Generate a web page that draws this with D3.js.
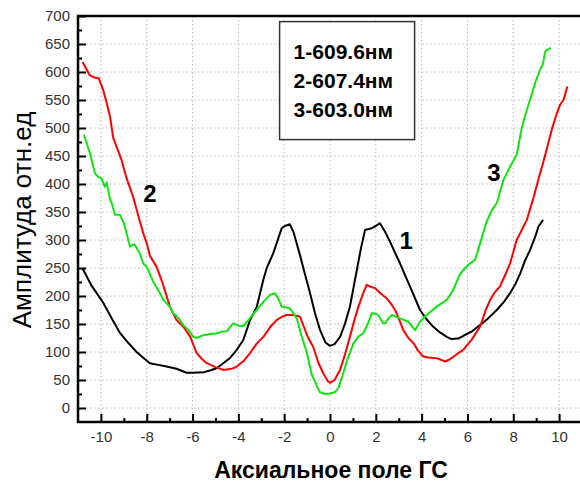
<!DOCTYPE html>
<html>
<head>
<meta charset="utf-8">
<script src="https://cdn.jsdelivr.net/npm/d3@7"></script>
<style>
  body { margin: 0; background: #fff; }
  svg { font-family: "Liberation Sans", Arial, sans-serif; }
</style>
</head>
<body>
<script>
// curve 1 (609.6 nm), black
var curve1 = [
  [-10.8,249],[-10.4,218],[-9.9,188],[-9.5,158],[-9.17,134],[-8.8,116],[-8.44,100],[-8.1,88],
  [-7.86,80],[-7.5,77],[-7.13,74],[-6.7,70],[-6.26,63],[-6.0,63],[-5.5,64],[-5.24,67],
  [-4.95,71],[-4.66,80],[-4.37,89],[-4.07,104],[-3.79,121],[-3.49,157],[-3.2,180],[-2.91,229],
  [-2.76,250],[-2.48,276],[-2.33,294],[-2.11,321],[-1.97,325],[-1.75,328],[-1.6,315],[-1.31,273],
  [-1.1,240],[-0.87,205],[-0.66,170],[-0.44,140],[-0.2,117],[0,111],[0.2,114],[0.44,127],
  [0.65,150],[0.87,181],[1.17,246],[1.35,285],[1.53,318],[1.82,321],[2.0,325],[2.18,330],
  [2.4,315],[2.62,297],[2.84,277],[3.06,258],[3.28,237],[3.49,217],[3.71,196],[3.93,175],
  [4.22,158],[4.51,145],[4.8,135],[5.1,127],[5.3,123],[5.6,124],[5.82,129],[6.2,137],
  [6.55,148],[6.9,160],[7.28,175],[7.6,190],[7.86,205],[8.1,222],[8.3,240],[8.5,262],
  [8.73,282],[8.95,305],[9.1,324],[9.3,336]
];

// curve 2 (607.4 nm), red
var curve2 = [
  [-10.8,618],[-10.5,595],[-10.3,590],[-10.1,589],[-9.9,568],[-9.75,545],[-9.6,520],[-9.46,482],
  [-9.3,465],[-9.1,443],[-8.95,420],[-8.8,401],[-8.6,378],[-8.44,354],[-8.3,333],[-8.15,312],
  [-8.0,294],[-7.86,272],[-7.57,252],[-7.3,222],[-6.99,181],[-6.7,157],[-6.4,145],[-6.1,127],
  [-5.82,98],[-5.6,88],[-5.38,80],[-5.0,73],[-4.66,68],[-4.3,70],[-4.07,74],[-3.75,85],
  [-3.49,98],[-3.2,115],[-2.91,127],[-2.6,145],[-2.33,157],[-2.1,163],[-1.9,166],[-1.6,166],
  [-1.31,163],[-1.17,148],[-0.95,125],[-0.73,109],[-0.5,80],[-0.29,62],[-0.1,48],[0,45],
  [0.2,50],[0.44,68],[0.65,95],[0.87,127],[1.05,155],[1.24,181],[1.45,205],[1.6,220],
  [1.8,216],[1.97,214],[2.2,205],[2.47,196],[2.65,187],[2.84,175],[3.0,160],[3.2,139],
  [3.42,125],[3.64,116],[3.85,102],[4.07,92],[4.3,90],[4.66,89],[5.02,83],[5.24,87],
  [5.6,98],[5.82,104],[6.2,123],[6.55,145],[6.8,175],[6.99,193],[7.2,207],[7.42,217],
  [7.65,238],[7.86,258],[8.15,300],[8.4,320],[8.59,336],[8.88,375],[9.17,419],[9.35,445],
  [9.53,473],[9.7,500],[9.9,526],[10.05,542],[10.19,550],[10.36,574]
];

// curve 3 (603.0 nm), green
var curve3 = [
  [-10.74,488],[-10.6,470],[-10.48,455],[-10.26,419],[-10.1,412],[-9.97,410],[-9.83,395],[-9.75,403],
  [-9.6,372],[-9.53,366],[-9.39,345],[-9.17,345],[-9.0,330],[-8.88,312],[-8.73,288],[-8.6,292],
  [-8.52,291],[-8.3,276],[-8.15,258],[-8.0,252],[-7.72,226],[-7.42,205],[-7.28,193],[-6.99,181],
  [-6.84,169],[-6.6,160],[-6.41,148],[-6.2,140],[-5.97,127],[-5.82,125],[-5.53,130],[-5.24,132],
  [-4.95,133],[-4.75,136],[-4.51,137],[-4.22,151],[-4.0,147],[-3.79,146],[-3.5,160],[-3.2,175],
  [-2.9,190],[-2.62,202],[-2.4,205],[-2.25,195],[-2.11,181],[-1.75,178],[-1.45,160],[-1.25,130],
  [-1.02,100],[-0.8,60],[-0.58,40],[-0.44,28],[-0.2,25],[0,26],[0.2,28],[0.36,35],
  [0.55,58],[0.73,83],[1.02,115],[1.25,128],[1.45,133],[1.65,150],[1.82,169],[2.0,168],
  [2.11,166],[2.3,152],[2.4,151],[2.55,160],[2.69,166],[3.06,160],[3.42,154],[3.6,145],
  [3.71,139],[3.93,154],[4.22,166],[4.66,181],[5.1,193],[5.38,211],[5.66,238],[5.9,250],
  [6.11,258],[6.33,264],[6.55,294],[6.84,333],[7.05,352],[7.28,366],[7.57,407],[7.86,431],
  [8.15,452],[8.35,496],[8.5,520],[8.66,541],[8.95,580],[9.17,604],[9.3,615],[9.39,636],
  [9.5,640],[9.64,643]
];

var legendLines = ['1-609.6нм', '2-607.4нм', '3-603.0нм'];
var curveLabels = [
  { text: '1', x: 3.32, y: 284 },
  { text: '2', x: -7.86, y: 368 },
  { text: '3', x: 7.16, y: 405 }
];
var xTicks = d3.range(-10, 11, 2);
var yTicks = d3.range(0, 701, 50);

var width = 580, height = 485;
var margin = { left: 78, right: -2, top: 16, bottom: 63 };

var svg = d3.select('body').append('svg')
  .attr('width', width)
  .attr('height', height);

var x = d3.scaleLinear()
  .domain([-11, 11])
  .range([margin.left, width - margin.right]);

var y = d3.scaleLinear()
  .domain([-25, 700])
  .range([height - margin.bottom, margin.top]);

// dotted grid
svg.append('g')
  .selectAll('line')
  .data(xTicks)
  .enter().append('line')
  .attr('x1', function(d) { return x(d); })
  .attr('x2', function(d) { return x(d); })
  .attr('y1', y(700))
  .attr('y2', y(-25))
  .attr('stroke', '#b8b8b8')
  .attr('stroke-width', 1)
  .attr('stroke-dasharray', '1.5,2.5');

svg.append('g')
  .selectAll('line')
  .data(yTicks.filter(function(d) { return d < 700; }))
  .enter().append('line')
  .attr('x1', x(-11))
  .attr('x2', x(11))
  .attr('y1', function(d) { return y(d); })
  .attr('y2', function(d) { return y(d); })
  .attr('stroke', '#b8b8b8')
  .attr('stroke-width', 1)
  .attr('stroke-dasharray', '1.5,2.5');

// curves
var line = d3.line()
  .x(function(d) { return x(d[0]); })
  .y(function(d) { return y(d[1]); });

var series = [
  { data: curve1, color: '#000000' },
  { data: curve2, color: '#ff0000' },
  { data: curve3, color: '#11e411' }
];

svg.selectAll('.curve')
  .data(series)
  .enter().append('path')
  .attr('class', 'curve')
  .attr('d', function(d) { return line(d.data); })
  .attr('fill', 'none')
  .attr('stroke', function(d) { return d.color; })
  .attr('stroke-width', 2)
  .attr('stroke-linejoin', 'round');

// axes with inward ticks
svg.append('g')
  .attr('transform', 'translate(0,' + y(-25) + ')')
  .call(d3.axisBottom(x).tickValues(xTicks).tickSize(-8).tickPadding(9)
    .tickFormat(function(d) { return d; }));

svg.append('g')
  .attr('transform', 'translate(0,' + y(-25) + ')')
  .call(d3.axisBottom(x).tickValues(d3.range(-9, 11, 2)).tickSize(-4).tickFormat(''));

svg.append('g')
  .attr('transform', 'translate(' + x(-11) + ',0)')
  .call(d3.axisLeft(y).tickValues(yTicks).tickSize(-8).tickPadding(8));

svg.append('g')
  .attr('transform', 'translate(' + x(-11) + ',0)')
  .call(d3.axisLeft(y).tickValues(d3.range(25, 700, 50)).tickSize(-4).tickFormat(''));

svg.selectAll('.domain').remove();
svg.selectAll('.tick line').attr('stroke', '#000').attr('stroke-width', 2);
svg.selectAll('.tick text')
  .attr('fill', '#333')
  .style('font-size', '15px');

// frame
svg.append('rect')
  .attr('x', x(-11))
  .attr('y', y(700))
  .attr('width', x(11) - x(-11))
  .attr('height', y(-25) - y(700))
  .attr('fill', 'none')
  .attr('stroke', '#000')
  .attr('stroke-width', 2.5);

// legend box
var lg = svg.append('g').attr('transform', 'translate(' + x(-2.2) + ',' + y(690) + ')');
lg.append('rect')
  .attr('width', 135)
  .attr('height', 118)
  .attr('fill', '#fff')
  .attr('stroke', '#333')
  .attr('stroke-width', 1.5);
lg.selectAll('text')
  .data(legendLines)
  .enter().append('text')
  .attr('x', 14)
  .attr('y', function(d, i) { return 37 + i * 29; })
  .style('font-size', '21px')
  .style('font-weight', 'bold')
  .text(function(d) { return d; });

// curve numbers
svg.selectAll('.clabel')
  .data(curveLabels)
  .enter().append('text')
  .attr('class', 'clabel')
  .attr('x', function(d) { return x(d.x); })
  .attr('y', function(d) { return y(d.y); })
  .attr('text-anchor', 'middle')
  .style('font-size', '24px')
  .style('font-weight', 'bold')
  .text(function(d) { return d.text; });

// axis titles
svg.append('text')
  .attr('x', 331)
  .attr('y', 478)
  .attr('text-anchor', 'middle')
  .style('font-size', '23px')
  .style('font-weight', 'bold')
  .text('Аксиальное поле ГС');

svg.append('text')
  .attr('transform', 'translate(31,220) rotate(-90)')
  .attr('text-anchor', 'middle')
  .style('font-size', '26px')
  .text('Амплитуда отн.ед');
</script>
</body>
</html>
